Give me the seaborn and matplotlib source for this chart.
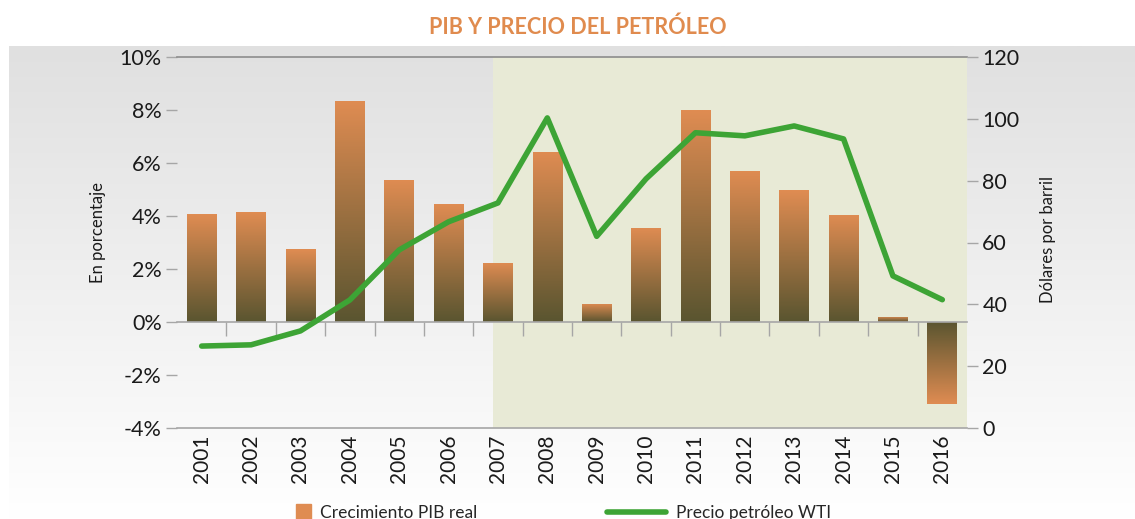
import numpy as np
import pandas as pd
import matplotlib
matplotlib.use('Agg')
import matplotlib.pyplot as plt
import seaborn as sns
from matplotlib.colors import LinearSegmentedColormap
from matplotlib.patches import Patch
from matplotlib.lines import Line2D

# data
years = [str(y) for y in range(2001, 2017)]
pib = [4.07, 4.15, 2.75, 8.34, 5.36, 4.45, 2.23, 6.42, 0.68, 3.55, 8.0, 5.7, 4.98, 4.04, 0.19, -3.1]
wti = [26.5, 26.9, 31.4, 41.4, 57.6, 66.7, 72.8, 100.3, 62.0, 80.6, 95.5, 94.5, 97.7, 93.5, 49.2, 41.5]
left_ticks = [-4, -2, 0, 2, 4, 6, 8, 10]
right_ticks = [0, 20, 40, 60, 80, 100, 120]

orange = '#DF8C52'
dark = '#5A5530'
green = '#3DA435'
grey = '#A6A6A6'

sns.set_theme(style='white')
plt.rcParams['font.family'] = ['Lato', 'DejaVu Sans']

fig = plt.figure(figsize=(11.35, 5.19), dpi=100)

# grey gradient background behind the chart
bg = fig.add_axes([9/1135, 0, 1 - 9/1135, 1 - 46/519])
bg_cmap = LinearSegmentedColormap.from_list('bg', ['#E0E0E0', '#FFFFFF'])
bg.imshow(np.linspace(0, 1, 256).reshape(-1, 1), aspect='auto', cmap=bg_cmap,
          extent=[0, 1, 0, 1], origin='upper')
bg.axis('off')

ax = fig.add_axes([177/1135, 1 - 428/519, (967 - 177)/1135, (428 - 57)/519])
ax.set_facecolor('none')

df = pd.DataFrame({'anio': years, 'pib': pib, 'wti': wti})
sns.barplot(data=df, x='anio', y='pib', color=orange, width=0.6, saturation=1, ax=ax, zorder=2)

# gradient fill on each bar: dark near zero, orange at the tip
bar_cmap = LinearSegmentedColormap.from_list('bar', [dark, orange])
g = np.linspace(0, 1, 100).reshape(-1, 1)
for p in ax.patches:
    x0, w, h = p.get_x(), p.get_width(), p.get_height()
    if h >= 0:
        im = ax.imshow(g, extent=[x0, x0 + w, 0, h], origin='lower', cmap=bar_cmap, aspect='auto', zorder=2)
    else:
        im = ax.imshow(g[::-1], extent=[x0, x0 + w, h, 0], origin='lower', cmap=bar_cmap, aspect='auto', zorder=2)
    im.set_clip_path(p)
    p.set_facecolor('none')
    p.set_edgecolor('none')

ax.axvspan(5.9, 15.5, color='#E8EAD6', zorder=0, lw=0)

ax.set_xlim(-0.5, 15.5)
ax.set_ylim(-4, 10)
ax.set_yticks(left_ticks)
ax.set_yticklabels([f'{v}%' for v in left_ticks])
ax.tick_params(axis='y', left=True, length=8, width=1, color=grey, labelsize=15.5, pad=3, labelcolor='#1a1a1a')
ax.set_xticks(np.arange(0.5, 15, 1))
ax.set_xticklabels([])
ax.tick_params(axis='x', bottom=True, length=10, width=1, color=grey, direction='out')
ax.set_xlabel('')
ax.set_ylabel('En porcentaje', fontsize=12, color='#1a1a1a')
ax.yaxis.set_label_coords(-0.09, 0.528)

for s in ['left', 'right']:
    ax.spines[s].set_visible(False)
ax.spines['top'].set_color('#8C8C8C')
ax.spines['top'].set_linewidth(1.2)
ax.spines['bottom'].set_position(('data', 0))
ax.spines['bottom'].set_color(grey)
ax.spines['bottom'].set_linewidth(1.2)

# year labels along the bottom edge
sec = ax.secondary_xaxis('bottom')
sec.set_xticks(range(len(years)))
sec.set_xticklabels(years, rotation=90)
sec.tick_params(length=0, labelsize=15, pad=5, labelcolor='#1a1a1a')
sec.spines['bottom'].set_color(grey)
sec.spines['bottom'].set_linewidth(1.2)

ax2 = ax.twinx()
sns.lineplot(x=np.arange(len(wti)), y=wti, color=green, linewidth=4, ax=ax2, zorder=3)
ax2.set_ylim(0, 120)
ax2.set_yticks(right_ticks)
ax2.tick_params(axis='y', right=True, length=8, width=1, color=grey, labelsize=15.5, pad=3, labelcolor='#1a1a1a')
for s in ax2.spines.values():
    s.set_visible(False)
ax2.set_ylabel('Dólares por barril', fontsize=12, color='#1a1a1a')
ax2.yaxis.set_label_coords(1.092, 0.507)
ax.set_xlim(-0.5, 15.5)

fig.text(0.509, 1 - 27/519, 'PIB Y PRECIO DEL PETRÓLEO', ha='center', va='center',
         color='#E08B4E', fontsize=15.5, fontweight='bold')

fig.legend([Patch(color=orange)], ['Crecimiento PIB real'], loc='center left',
           bbox_to_anchor=(280/1135, 0.012), frameon=False, fontsize=12.5,
           handlelength=0.9, handleheight=1.0, handletextpad=0.5)
fig.legend([Line2D([0], [0], color=green, lw=4)], ['Precio petróleo WTI'], loc='center left',
           bbox_to_anchor=(591/1135, 0.012), frameon=False, fontsize=12.5,
           handlelength=3.4, handletextpad=0.6)

fig.savefig('out.png', dpi=100)
